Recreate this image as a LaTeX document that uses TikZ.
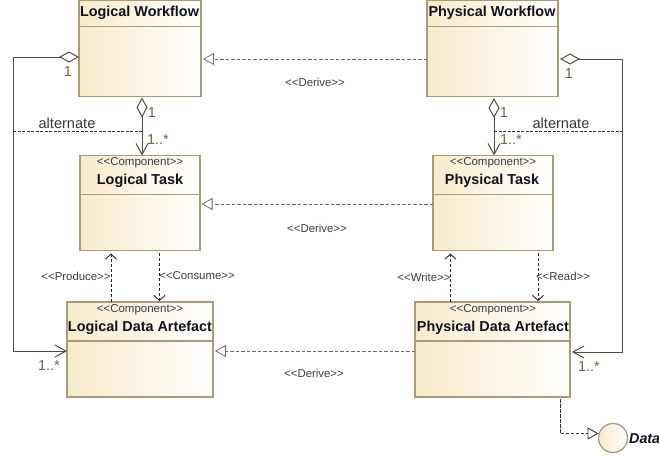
\documentclass[tikz,border=0pt]{standalone}
\usepackage{fontspec}
\setmainfont{Liberation Sans}
\usetikzlibrary{arrows.meta,calc}
\definecolor{boxedge}{HTML}{A99B78}
\definecolor{boxfill}{HTML}{F8EBCB}
\definecolor{linecol}{HTML}{564C3C}
\definecolor{dashcol}{HTML}{6E6E6E}
\definecolor{multcol}{HTML}{6F6545}
\definecolor{inkcol}{HTML}{12121F}
\definecolor{stereocol}{HTML}{3A3A4A}
\tikzset{
  umlbox/.style={draw=boxedge,line width=1.4pt,left color=boxfill,right color=white,anchor=north west,inner sep=0pt,outer sep=0pt},
  divider/.style={draw=boxedge,line width=1.1pt},
  titletext/.style={font=\bfseries\fontsize{14.4}{16}\selectfont,text=inkcol,inner sep=0pt},
  stereotext/.style={font=\fontsize{11.5}{13}\selectfont,text=stereocol,inner sep=0pt},
  deplabel/.style={font=\fontsize{11.4}{13}\selectfont,text=stereocol,inner sep=0pt},
  multlabel/.style={font=\fontsize{14.5}{16}\selectfont,text=multcol,inner sep=0pt},
  altlabel/.style={font=\fontsize{14.6}{16}\selectfont,text=inkcol!85!white,inner sep=0pt},
  assoc/.style={draw=linecol,line width=1pt},
  derive/.style={draw=dashcol,line width=0.8pt,dash pattern=on 3.5pt off 2pt,-{Triangle[open,length=11pt,width=12pt,fill=white]}},
  usedep/.style={draw=black!85,line width=0.9pt,dash pattern=on 3pt off 2pt,-{Straight Barb[length=5pt,width=11pt]}},
  altline/.style={draw=black!80,line width=0.9pt,dash pattern=on 3pt off 1.5pt},
  aggarrow/.style={{Diamond[open,length=20pt,width=11pt,fill=white]}-{Straight Barb[length=11pt,width=12pt]}},
}
\begin{document}
\begin{tikzpicture}[x=1pt,y=-1pt]
\useasboundingbox (0,0) rectangle (659,459);
% classes
\node[umlbox,minimum width=122pt,minimum height=96pt] (lw) at (79,0.5) {};
\node[umlbox,minimum width=131pt,minimum height=96pt] (pw) at (427,0.5) {};
\node[umlbox,minimum width=120pt,minimum height=95pt] (lt) at (80,155.5) {};
\node[umlbox,minimum width=120pt,minimum height=95pt] (pt) at (433,155.5) {};
\node[umlbox,minimum width=146pt,minimum height=95pt] (lda) at (67,302) {};
\node[umlbox,minimum width=155pt,minimum height=95pt] (pda) at (415,302) {};
% dividers
\draw[divider] ([yshift=-26pt]lw.north west) -- ([yshift=-26pt]lw.north east);
\draw[divider] ([yshift=-26pt]pw.north west) -- ([yshift=-26pt]pw.north east);
\draw[divider] ([yshift=-39pt]lt.north west) -- ([yshift=-39pt]lt.north east);
\draw[divider] ([yshift=-39pt]pt.north west) -- ([yshift=-39pt]pt.north east);
\draw[divider] ([yshift=-39pt]lda.north west) -- ([yshift=-39pt]lda.north east);
\draw[divider] ([yshift=-39pt]pda.north west) -- ([yshift=-39pt]pda.north east);
% titles
\node[titletext] (lwt) at (139.5,13) {Logical Workflow};
\node[titletext] (pwt) at (492,13) {Physical Workflow};
\node[stereotext] (lts) at (140,163) {<{}<Component>{}>};
\node[titletext] (ltt) at (140,181) {Logical Task};
\node[stereotext] (pts) at (493,163) {<{}<Component>{}>};
\node[titletext] (ptt) at (492,181) {Physical Task};
\node[stereotext] (ldas) at (140,309.5) {<{}<Component>{}>};
\node[titletext] (ldat) at (140,328) {Logical Data Artefact};
\node[stereotext] (pdas) at (493,309.5) {<{}<Component>{}>};
\node[titletext] (pdat) at (493,328) {Physical Data Artefact};
% interface
\node[circle,draw=boxedge,line width=1.3pt,left color=boxfill,right color=white,minimum size=29pt,inner sep=0pt,outer sep=0pt] (data) at (613,438) {};
\node[font=\bfseries\itshape\fontsize{14.3}{16}\selectfont,text=inkcol,inner sep=0pt,anchor=west] (datat) at (629,438.5) {Data};
% derive
\draw[derive] (pw.west |- 0,59) -- ([xshift=2pt]lw.east |- 0,59);
\draw[derive] (pt.west |- 0,204) -- ([xshift=1.5pt]lt.east |- 0,204);
\draw[derive] (pda.west |- 0,351) -- ([xshift=2pt]lda.east |- 0,351);
\node[deplabel] (d1) at (315,82) {<{}<Derive>{}>};
\node[deplabel] (d2) at (317,228) {<{}<Derive>{}>};
\node[deplabel] (d3) at (314,373) {<{}<Derive>{}>};
% aggregations
\coordinate (wl1) at (13,57);
\coordinate (wl2) at (13,351);
\draw[assoc,aggarrow] (lw.west |- 0,57) -- (wl1) -- (wl2) -- (lda.west |- wl2);
\coordinate (wr1) at (622,59);
\coordinate (wr2) at (622,352);
\draw[assoc,aggarrow] ([xshift=2pt]pw.east |- wr1) -- (wr1) -- (wr2) -- ([xshift=2pt]pda.east |- wr2);
\draw[assoc,aggarrow] (142,97.5) -- (lt.north -| 142,0);
\draw[assoc,aggarrow] (494,98) -- (pt.north -| 494,0);
% alternate
\coordinate (al) at (13,131);
\coordinate (alm) at (142,131);
\coordinate (ar) at (622,131);
\coordinate (arm) at (494,131);
\draw[altline] (al) -- (alm);
\draw[altline] (arm) -- (ar);
\node[altlabel] (a1) at (67,123) {alternate};
\node[altlabel] (a2) at (561,123) {alternate};
% multiplicities
\node[multlabel] (m1) at (68,72) {1};
\node[multlabel] (m2) at (152,113) {1};
\node[multlabel] (m3) at (158,140) {1..*};
\node[multlabel] (m4) at (49,366) {1..*};
\node[multlabel] (m5) at (569,74) {1};
\node[multlabel] (m6) at (504,113) {1};
\node[multlabel] (m7) at (511,140) {1..*};
\node[multlabel] (m8) at (589,367) {1..*};
% usage
\draw[usedep] (lda.north -| 111,0) -- ([yshift=-3pt]lt.south -| 111,0);
\draw[usedep] ([yshift=-2.5pt]lt.south -| 159.5,0) -- ([yshift=1pt]lda.north -| 159.5,0);
\draw[usedep] (pda.north -| 450.5,0) -- ([yshift=-3pt]pt.south -| 450.5,0);
\draw[usedep] ([yshift=-2.5pt]pt.south -| 538,0) -- ([yshift=1pt]pda.north -| 538,0);
\node[deplabel] (u1) at (76,276) {<{}<Produce>{}>};
\node[deplabel] (u2) at (197,276) {<{}<Consume>{}>};
\node[deplabel] (u3) at (424,277) {<{}<Write>{}>};
\node[deplabel] (u4) at (563,276) {<{}<Read>{}>};
% realisation to interface
\coordinate (rb) at (560,433.5);
\draw[draw=black!80,line width=0.9pt,dash pattern=on 3.5pt off 1.5pt,-{Triangle[open,length=11pt,width=12pt,fill=white]}] ([yshift=-2pt]pda.south -| rb) -- (rb) -- (data.west |- rb);
\end{tikzpicture}
\end{document}
